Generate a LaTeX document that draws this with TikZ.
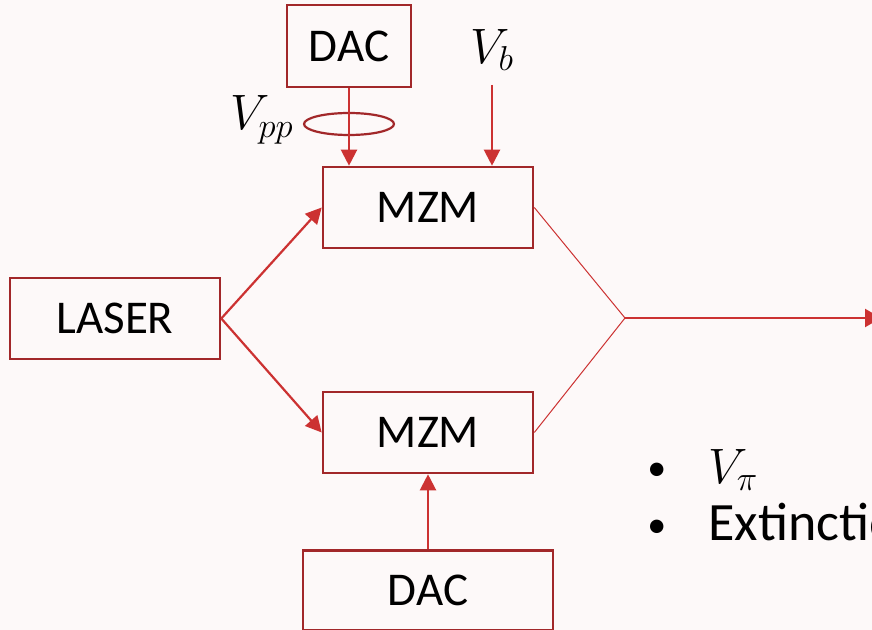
\documentclass[tikz,border=0pt]{standalone}
\usepackage{fontspec}
\setmainfont{Carlito}
\usepackage{tikz}
\usetikzlibrary{arrows.meta,positioning}
\definecolor{mzdark}{RGB}{162,40,42}
\definecolor{mzred}{RGB}{204,50,50}
\definecolor{mzpaper}{RGB}{253,249,249}
\tikzset{
  mzbox/.style={draw=mzdark, line width=1.3pt, align=center, inner sep=0pt, font=\fontsize{23.5}{28}\selectfont},
  mzarr/.style={-{Triangle[length=8pt,width=8pt]}, line width=1.1pt, draw=mzred},
  mzthin/.style={line width=0.5pt, draw=mzred},
  mzout/.style={-{Triangle[length=8pt,width=9pt]}, line width=1.2pt, draw=mzred},
  mzring/.style={line width=1.1pt, draw=mzdark},
  mzlabel/.style={inner sep=0pt, font=\fontsize{25}{30}\selectfont},
  mzbullet/.style={anchor=base west, inner sep=0pt, font=\fontsize{27}{32}\selectfont}
}

\begin{document}
\begin{tikzpicture}[x=0.5pt, y=-0.5pt]
  \clip (0,0) rectangle (872,630);
  \fill[mzpaper] (0,0) rectangle (872,630);
  % blocks
  \node[mzbox, minimum width=105pt, minimum height=40.5pt] (laser) at (115,318.5) {LASER};
  \node[mzbox, minimum width=105pt, minimum height=40.5pt] (mztop) at (428,207.5) {MZM};
  \node[mzbox, minimum width=105pt, minimum height=40.5pt] (mzbot) at (428,432.5) {MZM};
  \node[mzbox, minimum width=62pt, minimum height=41pt] (dactop) at (349,46) {DAC};
  \node[mzbox, minimum width=125pt, minimum height=40pt, below=37.5pt of mzbot] (dacbot) {DAC};
  % drive labels
  \node[mzlabel] (vpp) at (262,120) {$V_{pp}$};
  \node[mzlabel] (vb) at (492,50) {$V_b$};
  \coordinate (vbin) at (492,85);
  \coordinate (comb) at (625,318);
  \coordinate (outend) at (881,318);
  \draw[mzring] (349,124) ellipse [x radius=22.5pt, y radius=5.5pt];
  % connectors
  \draw[mzarr] (dactop.south) -- (dactop.south |- mztop.north);
  \draw[mzarr] (vbin) -- (vbin |- mztop.north);
  \draw[mzarr] (laser.east) -- (mztop.west);
  \draw[mzarr] (laser.east) -- (mzbot.west);
  \draw[mzarr] (dacbot.north) -- (mzbot.south);
  \draw[mzthin] (mztop.east) -- (comb);
  \draw[mzthin] (mzbot.east) -- (comb);
  \draw[mzout] (comb) -- (outend);
  % notes
  \node[mzbullet, font=\fontsize{19}{24}\selectfont] (bul1) at (647,480) {\textbullet};
  \node[mzbullet] (note1) at (708,483) {$V_\pi$};
  \node[mzbullet, font=\fontsize{19}{24}\selectfont] (bul2) at (647,537) {\textbullet};
  \node[mzbullet] (note2) at (708,540) {Extinction};
\end{tikzpicture}
\end{document}
